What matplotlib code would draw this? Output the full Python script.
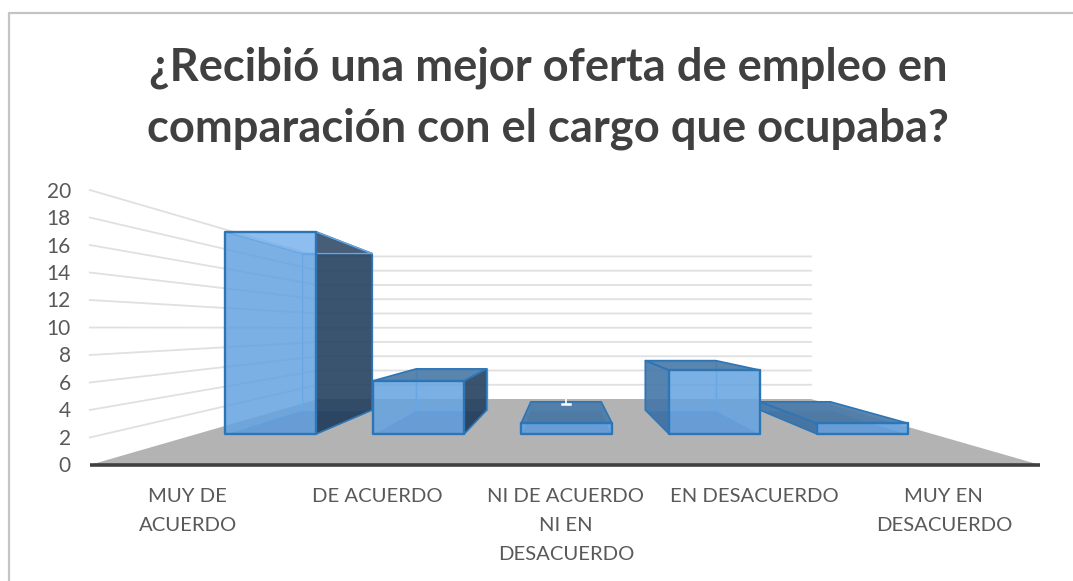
import numpy as np
import matplotlib
matplotlib.use('Agg')
import matplotlib.pyplot as plt
from matplotlib.patches import Polygon

plt.rcParams['font.family'] = ['Lato', 'DejaVu Sans']

TITLE = "¿Recibió una mejor oferta de empleo en\ncomparación con el cargo que ocupaba?"
categories = ["MUY DE\nACUERDO", "DE ACUERDO", "NI DE ACUERDO\nNI EN\nDESACUERDO",
              "EN DESACUERDO", "MUY EN\nDESACUERDO"]
values = [19, 5, 1, 6, 1]
y_ticks = [0, 2, 4, 6, 8, 10, 12, 14, 16, 18, 20]

# perspective set up for the fake 3D look (pixels on the bars' front plane)
VX, VY = 564, 328
X0, X_STEP = 197, 148
Y0, Y_UNIT = 434, 10.64
S_AXIS, S_LABEL, S_FRONT, S_BACK, S_WALL = 1.292, 1.277, 1.0, 0.774, 0.67
BAR_GAP, BAR_W = 0.19, 0.615
FLOOR_END = 4.97


def project(x, v, s):
    """Category position x, value v, depth scale s -> canvas pixels."""
    px = VX + s * (X0 + X_STEP * x - VX)
    py = VY + s * (Y0 - Y_UNIT * v - VY)
    return px, py


def quad(ax, pts, fc, alpha, z, ec='none', lw=0):
    ax.add_patch(Polygon(pts, closed=True, facecolor=fc, alpha=alpha, edgecolor='none', zorder=z))
    if ec != 'none':
        ax.add_patch(Polygon(pts, closed=True, fill=False, edgecolor=ec, linewidth=lw, zorder=z + 0.5,
                             joinstyle='round'))


fig = plt.figure(figsize=(10.73, 5.81), dpi=100)
ax = fig.add_axes([0, 0, 1, 1])
ax.set_xlim(0, 1073)
ax.set_ylim(581, 0)
ax.axis('off')

# outer chart frame
ax.plot([9, 9, 1073], [581, 13, 13], color='#c4c4c4', linewidth=1.6, zorder=1)

ax.text(548, 98, TITLE, ha='center', va='center', fontsize=32.7, fontweight='bold',
        color='#404040', linespacing=1.53, zorder=10)

# floor
floor = [project(0, 0, S_AXIS), project(FLOOR_END, 0, S_AXIS),
         project(FLOOR_END, 0, S_WALL), project(0, 0, S_WALL)]
quad(ax, floor, '#b3b3b3', 1, 2)

# gridlines on side wall and back wall
for t in y_ticks[1:]:
    a = project(0, t, S_AXIS)
    b = project(0, t, S_WALL)
    c = project(FLOOR_END, t, S_WALL)
    ax.plot([a[0], b[0], c[0]], [a[1], b[1], c[1]], color='#e0e0e0', linewidth=1.3, zorder=1.5)

# axis line
a = project(0, 0, S_AXIS)
b = project(FLOOR_END, 0, S_AXIS)
ax.plot([a[0], b[0]], [a[1], b[1]], color='#404040', linewidth=2.6, zorder=3, solid_capstyle='butt')

# tick labels
for t in y_ticks:
    x, y = project(0, t, S_AXIS)
    ax.text(x - 19, y + 1.5, str(t), ha='right', va='center', fontsize=15, color='#595959', zorder=10)

for i, label in enumerate(categories):
    x, y = project(i + 0.5, 0, S_LABEL)
    ax.text(x - 2, y + 25, label, ha='center', va='top', fontsize=14.6, color='#595959',
            linespacing=1.85, zorder=10)

# bars, back to front
EDGE = '#2e75b6'
INNER = '#6aa5dc'
for i, v in enumerate(values):
    x1, x2 = i + BAR_GAP, i + BAR_GAP + BAR_W
    fbl, fbr = project(x1, 0, S_FRONT), project(x2, 0, S_FRONT)
    ftl, ftr = project(x1, v, S_FRONT), project(x2, v, S_FRONT)
    bbl, bbr = project(x1, 0, S_BACK), project(x2, 0, S_BACK)
    btl, btr = project(x1, v, S_BACK), project(x2, v, S_BACK)
    z = 4 + i * 0.01

    # back and bottom, seen through the front
    quad(ax, [bbl, bbr, btr, btl], '#5b7fa0', 0.45, z, INNER, 1.0)
    quad(ax, [fbl, fbr, bbr, bbl], '#3a5a80', 0.6, z + 0.1)

    # side faces: dark from outside, same tint as the back from inside
    if btr[0] > ftr[0]:
        quad(ax, [fbr, bbr, btr, ftr], '#1f3a58', 0.82, z + 1, EDGE, 1.2)
    else:
        quad(ax, [fbr, bbr, btr, ftr], '#5b7fa0', 0.45, z + 0.2)
        ax.plot([fbr[0], bbr[0]], [fbr[1], bbr[1]], color=INNER, linewidth=1.0, zorder=z + 1)
    if btl[0] < ftl[0]:
        quad(ax, [fbl, bbl, btl, ftl], '#3f74a8', 0.8, z + 1, EDGE, 1.2)
    else:
        quad(ax, [fbl, bbl, btl, ftl], '#5b7fa0', 0.45, z + 0.2)
        ax.plot([fbl[0], bbl[0]], [fbl[1], bbl[1]], color=INNER, linewidth=1.0, zorder=z + 1)

    # top only shows when it sits below eye level
    if btl[1] < ftl[1]:
        quad(ax, [ftl, ftr, btr, btl], '#4a7aa8', 0.85, z + 2, EDGE, 1.2)
    else:
        ax.plot([ftl[0], btl[0], btr[0], ftr[0]], [ftl[1], btl[1], btr[1], ftr[1]],
                color=INNER, linewidth=1.0, zorder=z + 2)
    quad(ax, [fbl, fbr, ftr, ftl], '#67a9ea', 0.75, z + 3, EDGE, 1.7)

# leftover white label mark above the smallest middle bar
cx, cy = project(2 + BAR_GAP + BAR_W / 2, values[2], S_BACK)
ax.plot([cx, cx], [cy - 5, cy + 2], color='white', linewidth=1.2, zorder=9)
ax.plot([cx - 4, cx + 4], [cy + 2, cy + 2], color='white', linewidth=1.8, zorder=9)

plt.savefig('out.png', dpi=100)
